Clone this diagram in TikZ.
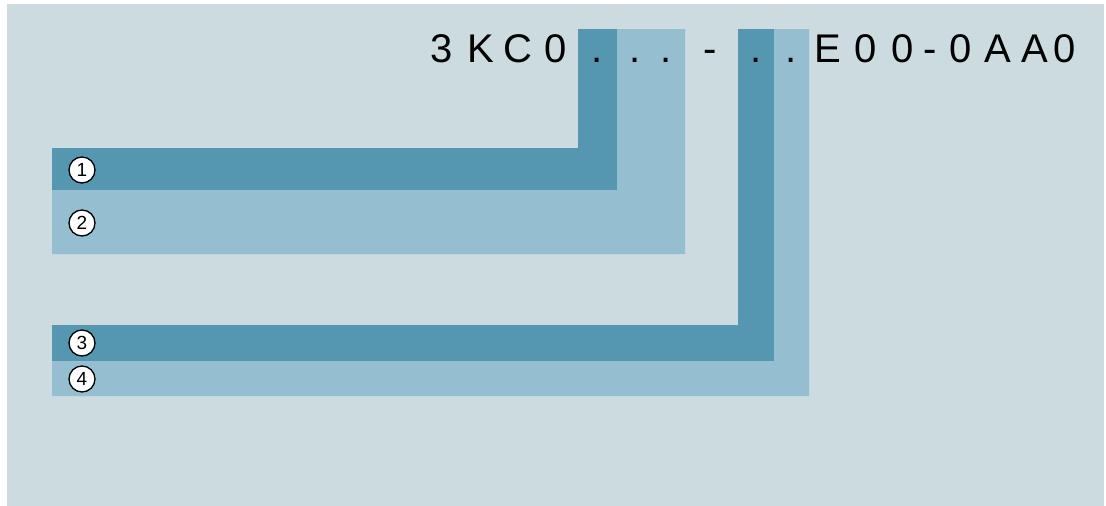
\documentclass[tikz,border=0pt]{standalone}
\usepackage{fontspec}
\setmainfont{Liberation Sans}
\definecolor{bgc}{HTML}{CBDBE0}
\definecolor{darkband}{HTML}{5596B0}
\definecolor{lightband}{HTML}{95BFD0}
\tikzset{
  darkfill/.style={fill=darkband, draw=none},
  lightfill/.style={fill=lightband, draw=none},
  codechar/.style={anchor=base, inner sep=0pt, font=\fontsize{40}{40}\selectfont},
  marker/.style={circle, draw=black, line width=1.3pt, fill=white, minimum size=26pt, inner sep=0pt, font=\fontsize{19}{19}\selectfont}
}
\begin{document}
\begin{tikzpicture}[x=1pt,y=-1pt]
\useasboundingbox (0,0) rectangle (1106,506);
\fill[white] (0,0) rectangle (1106,506);
\fill[bgc] (7,4) rectangle (1104,506);
% L-shaped bands
\path[darkfill] (52,148) -- (578,148) -- (578,29) -- (617,29) -- (617,190) -- (52,190) -- cycle;
\path[lightfill] (52,190) -- (617,190) -- (617,29) -- (685,29) -- (685,254) -- (52,254) -- cycle;
\path[darkfill] (52,325) -- (738,325) -- (738,29) -- (774,29) -- (774,361) -- (52,361) -- cycle;
\path[lightfill] (52,361) -- (774,361) -- (774,29) -- (809,29) -- (809,396) -- (52,396) -- cycle;
% code characters
\foreach \cx/\ch [count=\i] in {442/3,481/K,518/C,556/0,597/.,635/.,666/.,710/-,756/.,791/.,828/E,866/0,903/0,930/-,961/0,998/A,1035/A,1065/0}
  \node[codechar] (c\i) at (\cx,62) {\ch};
% markers
\node[marker] (m1) at (82,170) {1};
\node[marker] (m2) at (82,223) {2};
\node[marker] (m3) at (82,343) {3};
\node[marker] (m4) at (82,379) {4};
\end{tikzpicture}
\end{document}
